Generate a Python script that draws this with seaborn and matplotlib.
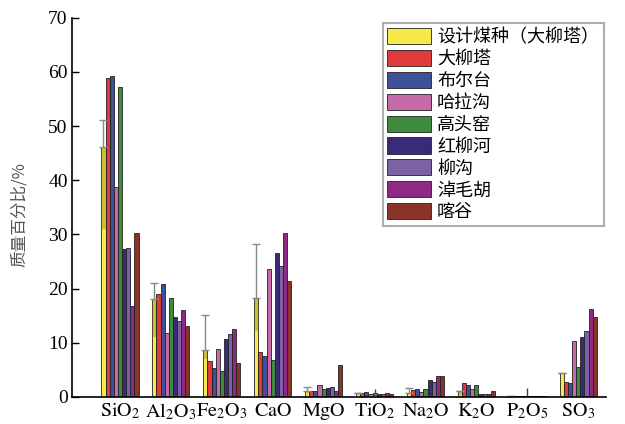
import numpy as np
import pandas as pd
import seaborn as sb
from matplotlib import pyplot as plt

oxides = [r'$\mathrm{SiO_2}$', r'$\mathrm{Al_2O_3}$', r'$\mathrm{Fe_2O_3}$', r'$\mathrm{CaO}$',
          r'$\mathrm{MgO}$', r'$\mathrm{TiO_2}$', r'$\mathrm{Na_2O}$', r'$\mathrm{K_2O}$',
          r'$\mathrm{P_2O_5}$', r'$\mathrm{SO_3}$']
sources = ['设计煤种（大柳塔）', '大柳塔', '布尔台', '哈拉沟', '高头窑', '红柳河', '柳沟', '淖毛胡', '喀谷']
colors = ['#f5ea48', '#e23a3a', '#3f4f9a', '#c66aaa', '#3f8a3c', '#3a2a78', '#7a62a4', '#8e2a86', '#8a3328']

design = [46.2, 18.0, 8.6, 18.2, 1.1, 0.8, 0.7, 1.0, 0.1, 4.4]
daliuta = [58.9, 19.0, 6.6, 8.3, 1.1, 0.8, 1.2, 2.5, 0.1, 2.8]
buertai = [59.2, 20.8, 5.4, 7.6, 1.1, 0.85, 1.5, 2.2, 0.1, 2.5]
halagou = [38.8, 11.8, 8.8, 23.6, 2.1, 0.6, 0.9, 1.4, 0.1, 10.3]
gaotouyao = [57.3, 18.2, 4.8, 6.8, 1.4, 0.7, 1.5, 2.2, 0.1, 5.5]
hongliuhe = [27.3, 14.7, 10.7, 26.5, 1.7, 0.5, 3.1, 0.6, 0.1, 11.0]
liugou = [27.5, 14.1, 11.6, 24.1, 1.8, 0.5, 2.8, 0.6, 0.1, 12.2]
naomaohu = [16.7, 16.1, 12.6, 30.3, 1.0, 0.75, 3.8, 0.5, 0.1, 16.3]
kagu = [30.3, 13.0, 6.3, 21.4, 5.8, 0.6, 3.8, 1.1, 0.1, 14.8]

# range of the design coal (min / max), drawn on the yellow bars
design_min = [31.0, 11.0, 7.0, 12.1, 0.8, 0.8, 0.5, 0.3, 0.1, 4.4]
design_max = [51.2, 21.1, 15.1, 28.2, 1.8, 0.8, 1.7, 1.0, 0.1, 4.4]
# small error marks on the middle bar
green_max = [57.3, 18.2, 4.8, 6.8, 1.4, 1.5, 1.5, 2.2, 1.6, 5.5]

values = [design, daliuta, buertai, halagou, gaotouyao, hongliuhe, liugou, naomaohu, kagu]
df = pd.DataFrame([(o, s, v[i]) for s, v in zip(sources, values) for i, o in enumerate(oxides)],
                  columns=['oxide', 'source', 'value'])

plt.rcParams['mathtext.fontset'] = 'stix'
fig = plt.figure(figsize=(6.25, 4.24), dpi=100)
ax = fig.add_axes([0.115, 0.064, 0.855, 0.894])
sb.barplot(data=df, x='oxide', y='value', hue='source', palette=colors, width=0.73,
           edgecolor='#222222', linewidth=0.6, saturation=1, ax=ax)

# error ranges
xs = np.array([p.get_x() + p.get_width() / 2 for p in ax.containers[0]])
w = ax.containers[0][0].get_width()
dmean = np.array(design)
dmin = np.array(design_min)
dmax = np.array(design_max)
ax.bar(xs, dmean - dmin, bottom=dmin, width=w, color='#6b5a10', alpha=0.3, linewidth=0)
ax.errorbar(xs, dmean, yerr=[np.zeros(10), dmax - dmean], fmt='none', ecolor='#888888',
            elinewidth=1, capsize=3, capthick=1)
xg = np.array([p.get_x() + p.get_width() / 2 for p in ax.containers[4]])
gm = np.array(gaotouyao)
gx = np.array(green_max)
mask = gx > gm
ax.errorbar(xg[mask], gm[mask], yerr=[np.zeros(mask.sum()), (gx - gm)[mask]], fmt='none',
            ecolor='#444444', elinewidth=1, capsize=0)

ax.set_xlim(-0.945, 9.55)
ax.set_ylim(0, 70)
ax.set_yticks(range(0, 71, 10))
ax.set_xlabel('')
ax.set_ylabel('质量百分比/%', family=['Noto Sans CJK SC', 'DejaVu Sans'], fontsize=12,
              color='#555555')
ax.yaxis.set_label_coords(-0.083, 0.48)
for s in ['top', 'right']:
    ax.spines[s].set_visible(False)
for s in ['left', 'bottom']:
    ax.spines[s].set_linewidth(1.2)
ax.tick_params(axis='y', direction='in', length=5, width=1, labelsize=14, pad=3)
ax.tick_params(axis='x', length=0, labelsize=14.5, pad=3)
for lab in ax.get_yticklabels():
    lab.set_family('Liberation Serif')

leg = ax.legend(loc='upper left', bbox_to_anchor=(0.582, 0.985),
                prop={'family': ['Noto Sans CJK SC', 'DejaVu Sans'], 'size': 13},
                handlelength=2.4, handleheight=1.0, handletextpad=0.35, labelspacing=0.2,
                borderpad=0.25, borderaxespad=0, frameon=True, fancybox=False)
leg.get_frame().set_edgecolor('#999999')
leg.get_frame().set_linewidth(1.5)
for h in leg.legend_handles:
    h.set_edgecolor('#222222')

fig.savefig('out.png', dpi=100)
